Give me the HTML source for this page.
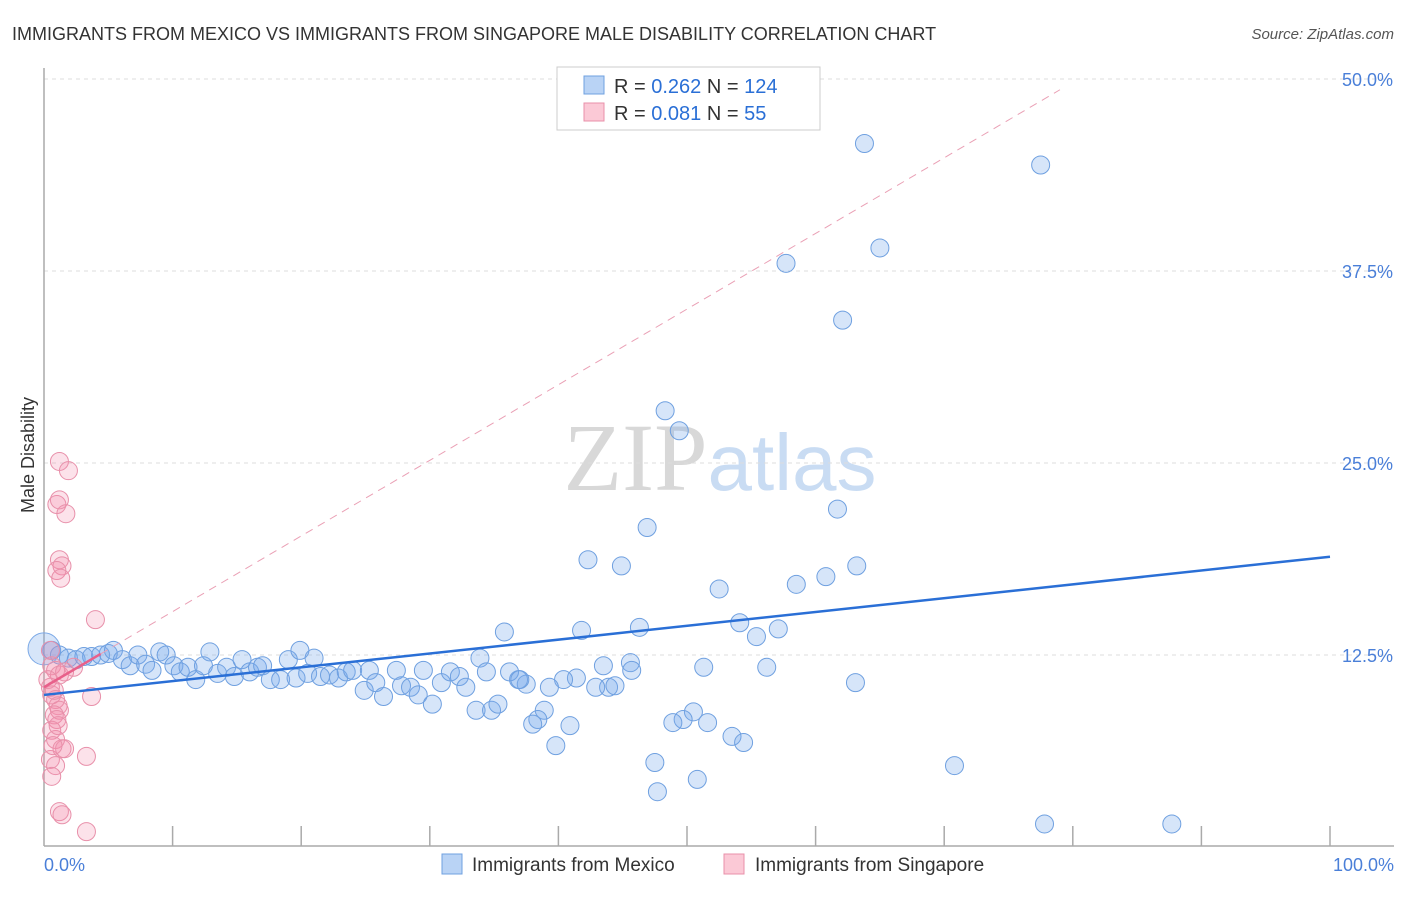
<!DOCTYPE html>
<html><head><meta charset="utf-8"><style>
body{margin:0;background:#fff;font-family:"Liberation Sans",sans-serif}
svg text{font-family:"Liberation Sans",sans-serif}
</style></head><body>
<svg width="1406" height="892" id="chart">
<text x="12" y="40" font-size="18" fill="#333">IMMIGRANTS FROM MEXICO VS IMMIGRANTS FROM SINGAPORE MALE DISABILITY CORRELATION CHART</text>
<text x="1394" y="39" font-size="15" fill="#555" font-style="italic" text-anchor="end">Source: ZipAtlas.com</text>
<text x="34" y="455" font-size="18" fill="#333" text-anchor="middle" transform="rotate(-90 34 455)">Male Disability</text>
<text x="720" y="490" font-size="96" fill="#ddd" text-anchor="middle" font-family="Liberation Serif"><tspan fill="#d8d8d8" font-family="Liberation Serif">ZIP</tspan><tspan fill="#c9dcf3" font-family="Liberation Sans" font-size="80">atlas</tspan></text>
<g id="grid"></g><g id="axes"></g><g id="pts"></g><g id="lines"></g>
<g>
<rect x="557" y="67" width="263" height="63" fill="#fff" stroke="#ccc"/>
<rect x="584" y="76" width="20" height="18" fill="#b9d3f5" stroke="#6fa0e0"/>
<text x="614" y="93" font-size="20" fill="#333">R = <tspan fill="#2a6fd6">0.262</tspan>    N = <tspan fill="#2a6fd6">124</tspan></text>
<rect x="584" y="103" width="20" height="18" fill="#fbc9d6" stroke="#e890aa"/>
<text x="614" y="120" font-size="20" fill="#333">R = <tspan fill="#2a6fd6">0.081</tspan>    N =   <tspan fill="#2a6fd6">55</tspan></text>
</g>
<g>
<rect x="442" y="854" width="20" height="20" fill="#b9d3f5" stroke="#6fa0e0"/>
<text x="472" y="871" font-size="19" fill="#333">Immigrants from Mexico</text>
<rect x="724" y="854" width="20" height="20" fill="#fbc9d6" stroke="#e890aa"/>
<text x="755" y="871" font-size="19" fill="#333">Immigrants from Singapore</text>
</g>
</svg>
<script>
const yTicks=[12.5,25,37.5,50];
const yTickLabels=["12.5%","25.0%","37.5%","50.0%"];
const xTickLabels=["0.0%","100.0%"];
const blueX=[63.8,77.5,65.0,57.7,62.1,48.3,49.4,61.7,46.9,42.3,44.9,63.2,60.8,58.5,52.5,54.1,57.1,55.4,35.8,41.8,46.3,45.6,43.5,45.7,51.3,56.2,63.1,43.9,42.9,44.4,41.4,40.4,39.3,37.5,36.9,50.5,49.7,48.9,51.6,53.5,54.4,38.9,38.4,38.0,40.9,39.8,47.5,50.8,47.7,70.8,77.8,87.7,
0.6,1.2,1.9,2.5,3.1,3.7,4.4,5.0,5.4,6.1,6.7,7.3,7.9,8.4,9.0,9.5,10.1,10.6,11.2,11.8,12.4,12.9,13.5,14.2,14.8,15.4,16.0,16.6,17.0,17.6,18.4,19.0,19.6,19.9,20.5,21.0,21.5,22.2,22.9,23.5,24.0,24.9,25.3,25.8,26.4,27.4,27.8,28.5,29.1,29.5,30.2,30.9,31.6,32.3,32.8,33.6,33.9,34.4,34.8,35.3,36.2,37.0];
const blueY=[45.8,44.4,39.0,38.0,34.3,28.4,27.1,22.0,20.8,18.7,18.3,18.3,17.6,17.1,16.8,14.6,14.2,13.7,14.0,14.1,14.3,12.0,11.8,11.5,11.7,11.7,10.7,10.4,10.4,10.5,11.0,10.9,10.4,10.6,10.9,8.8,8.3,8.1,8.1,7.2,6.8,8.9,8.3,8.0,7.9,6.6,5.5,4.4,3.6,5.3,1.5,1.5,
12.8,12.5,12.3,12.2,12.4,12.4,12.5,12.6,12.8,12.2,11.8,12.5,11.9,11.5,12.7,12.5,11.8,11.4,11.7,10.9,11.8,12.7,11.3,11.7,11.1,12.2,11.4,11.7,11.8,10.9,10.9,12.2,11.0,12.8,11.3,12.3,11.1,11.2,11.0,11.4,11.5,10.2,11.5,10.7,9.8,11.5,10.5,10.4,9.9,11.5,9.3,10.7,11.4,11.1,10.4,8.9,12.3,11.4,8.9,9.3,11.4,10.9];
const pinkX=[1.2,1.9,1.0,1.2,1.7,1.2,1.4,1.0,1.3,4.0,0.6,0.9,1.2,1.6,2.3,0.5,0.6,0.9,1.1,1.2,0.8,1.0,0.6,0.9,1.4,0.5,0.9,3.7,3.3,1.6,0.6,1.2,1.4,3.3,0.3,0.5,0.8,1.1,0.7];
const pinkY=[25.1,24.5,22.3,22.6,21.7,18.7,18.3,18.0,17.5,14.8,11.8,11.5,11.2,11.4,11.7,10.4,9.9,9.6,9.2,8.9,8.6,8.3,7.6,7.0,6.4,5.7,5.3,9.8,5.9,6.4,4.6,2.3,2.1,1.0,10.9,12.8,10.2,7.9,6.6];
const blueTrend=[9.9,18.9];
const pinkTrend=[10.4,49.3];
const pinkTrendEndX=79;
const X0=44,X1=1330,Y0=847,YPX=15.36;
const sx=v=>X0+(X1-X0)*v/100, sy=v=>Y0-v*YPX;
const NS="http://www.w3.org/2000/svg";
function mk(tag,attrs,parent){const e=document.createElementNS(NS,tag);for(const k in attrs)e.setAttribute(k,attrs[k]);document.getElementById(parent).appendChild(e);return e;}
yTicks.forEach((t,i)=>{
 const g=mk('line',{x1:X0,x2:1394,y1:sy(t),y2:sy(t),stroke:'#ddd','stroke-dasharray':'4,4'},'grid');
 
 
 const l=mk('text',{x:1393,y:sy(t)+7,'font-size':18,fill:'#4a7fd8','text-anchor':'end'},'axes');
 l.textContent=yTickLabels[i];
 
 
});
const ya=mk('line',{x1:X0,x2:X0,y1:68,y2:846,stroke:'#aaa','stroke-width':1.5},'axes');


const xa=mk('line',{x1:X0,x2:1394,y1:846,y2:846,stroke:'#aaa','stroke-width':1.5},'axes');


for(let i=1;i<=10;i++){const t=mk('line',{x1:sx(i*10),x2:sx(i*10),y1:826,y2:846,stroke:'#aaa','stroke-width':1.5},'axes');
 
 }
[[0,'start',X0],[100,'end',1394]].forEach((d,i)=>{const t=mk('text',{x:d[2],y:871,'font-size':18,fill:'#4a7fd8','text-anchor':d[1]},'axes');t.textContent=xTickLabels[i];
 
 });
const big=mk('circle',{cx:X0,cy:sy(12.9),r:16,fill:'rgba(120,170,235,0.3)',stroke:'#7aa8e6'},'pts');


blueX.forEach((x,i)=>{const c=mk('circle',{cx:sx(x),cy:sy(blueY[i]),r:9,fill:'rgba(120,170,235,0.3)',stroke:'#6fa0e0'},'pts');
 
 });
pinkX.forEach((x,i)=>{const c=mk('circle',{cx:sx(x),cy:sy(pinkY[i]),r:9,fill:'rgba(245,140,170,0.25)',stroke:'#e890aa'},'pts');
 
 });
const bl=mk('line',{x1:sx(0),y1:sy(blueTrend[0]),x2:sx(100),y2:sy(blueTrend[1]),stroke:'#2a6fd6','stroke-width':2.5},'lines');


const pm=pinkTrend[0]+(pinkTrend[1]-pinkTrend[0])*4.4/pinkTrendEndX;
const pl=mk('line',{x1:sx(0),y1:sy(pinkTrend[0]),x2:sx(4.4),y2:sy(pm),stroke:'#e8608a','stroke-width':2.5},'lines');


const pd=mk('line',{x1:sx(4.4),y1:sy(pm),x2:sx(pinkTrendEndX),y2:sy(pinkTrend[1]),stroke:'#eaa0b5','stroke-width':1,'stroke-dasharray':'8,6'},'lines');


</script>
</body></html>
